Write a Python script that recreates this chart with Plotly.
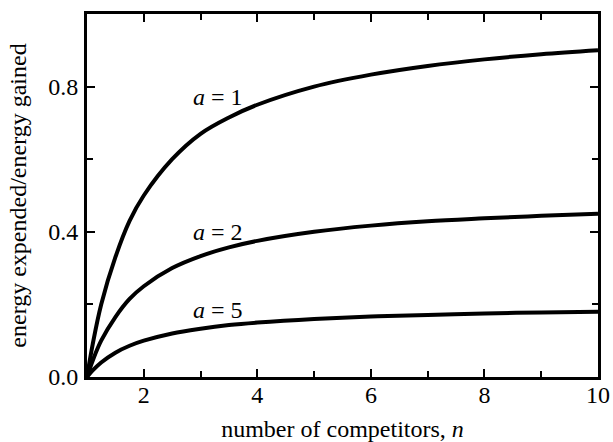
import plotly.graph_objects as go

n_vals = [1.0, 1.1, 1.25, 1.5, 1.75, 2.0, 2.5, 3.0, 3.5, 4.0, 5.0, 6.0, 7.0, 8.0, 9.0, 10.0]
ratio_a1 = [0.0, 0.09, 0.20, 0.33, 0.43, 0.50, 0.60, 0.67, 0.715, 0.75, 0.80, 0.833, 0.857, 0.875, 0.889, 0.90]
ratio_a2 = [0.0, 0.045, 0.10, 0.165, 0.215, 0.25, 0.30, 0.333, 0.357, 0.375, 0.40, 0.417, 0.429, 0.437, 0.444, 0.45]
ratio_a5 = [0.0, 0.018, 0.04, 0.067, 0.086, 0.10, 0.12, 0.133, 0.143, 0.15, 0.16, 0.167, 0.171, 0.175, 0.178, 0.18]
series_names = ["a = 1", "a = 2", "a = 5"]
label_x = [3.3, 3.3, 3.3]
label_y = [0.77, 0.40, 0.185]

font_family = "Liberation Serif, Times New Roman, serif"
FS = 24

fig = go.Figure()
for name, ys in zip(series_names, [ratio_a1, ratio_a2, ratio_a5]):
    fig.add_trace(go.Scatter(x=n_vals, y=ys, mode="lines", name=name,
                             line=dict(color="black", width=4, shape="spline"),
                             showlegend=False))

for name, lx, ly in zip(series_names, label_x, label_y):
    a_val = name.split("=")[1].strip()
    fig.add_annotation(x=lx, y=ly, text="<i>a</i> = " + a_val, showarrow=False,
                       font=dict(family=font_family, size=FS, color="black"))

axis_common = dict(showline=True, linecolor="black", linewidth=3, mirror="ticks",
                   ticks="inside", ticklen=8, tickwidth=2, tickcolor="black",
                   showgrid=False, zeroline=False, automargin=False,
                   tickfont=dict(family=font_family, size=FS, color="black"))

fig.update_xaxes(range=[1, 10], tick0=2, dtick=2, ticklabelstandoff=-6,
                 minor=dict(ticks="inside", dtick=1, tick0=1, ticklen=6, tickwidth=2, tickcolor="black"),
                 title=dict(text="number of competitors, <i>n</i>", standoff=18,
                            font=dict(family=font_family, size=FS, color="black")),
                 **axis_common)
fig.update_yaxes(range=[0, 1.0], tick0=0, dtick=0.4, tickformat=".1f", ticklabelstandoff=1,
                 minor=dict(ticks="inside", dtick=0.2, tick0=0, ticklen=6, tickwidth=2, tickcolor="black"),
                 title=dict(text="energy expended/energy gained", standoff=15,
                            font=dict(family=font_family, size=FS, color="black")),
                 **axis_common)

fig.update_layout(width=613, height=442, margin=dict(l=87, r=15, t=14, b=65),
                  plot_bgcolor="white", paper_bgcolor="white")

fig.write_html("out.html", config={"displayModeBar": False},
               post_script="document.body.style.margin='0';document.body.style.overflow='hidden';")
